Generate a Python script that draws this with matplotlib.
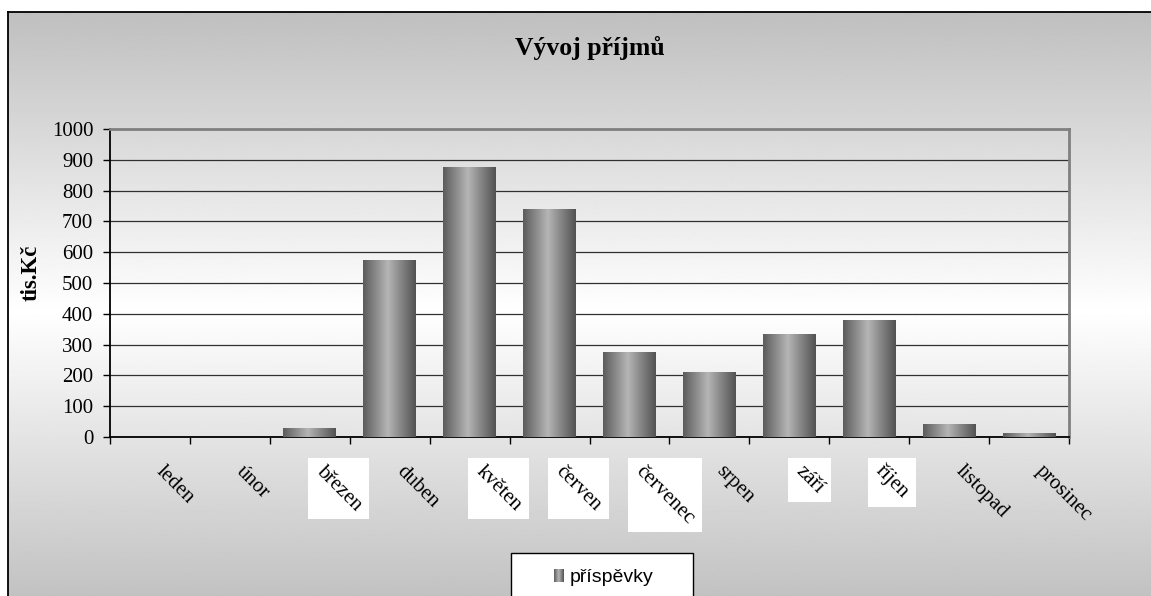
import numpy as np
import matplotlib
matplotlib.use("Agg")
import matplotlib.pyplot as plt
import matplotlib.transforms as mtransforms
from matplotlib.patches import Rectangle

# data (tis. Kč)
mesice = ['leden', 'únor', 'březen', 'duben', 'květen', 'červen',
          'červenec', 'srpen', 'září', 'říjen', 'listopad', 'prosinec']
prispevky = [0, 0, 28, 575, 877, 740, 276, 211, 334, 380, 42, 13]
y_ticks = [0, 100, 200, 300, 400, 500, 600, 700, 800, 900, 1000]
# labels shown on a white box in the original
boxed = ['březen', 'květen', 'červen', 'červenec', 'září', 'říjen']
serie = 'příspěvky'

plt.rcParams['font.family'] = ['Liberation Serif', 'DejaVu Serif']

W, H = 1151, 596
fig = plt.figure(figsize=(W / 100, H / 100), dpi=100)
fig.patch.set_facecolor('white')

# === background frame with vertical gradient ===
bg = fig.add_axes([8 / W, -14 / H, 1.05, (596 - 12 + 14) / H], zorder=-2)
t = np.linspace(0, 1, 300)
shade = 0.75 + 0.25 * (1 - np.abs(2 * t - 1))
bg.imshow(shade[:, None], cmap='gray', vmin=0, vmax=1, aspect='auto',
          extent=(0, 1, 0, 1), interpolation='bilinear')
bg.set_xlim(0, 1)
bg.set_ylim(0, 1)
bg.set_xticks([])
bg.set_yticks([])
for s in bg.spines.values():
    s.set_color('black')
    s.set_linewidth(1.3)

# === main plot ===
ax = fig.add_axes([110 / W, 1 - 437 / H, (1069 - 110) / W, (437 - 129) / H], zorder=0)
ax.patch.set_alpha(0)
x = np.arange(len(mesice))
bars = ax.bar(x, prispevky, width=0.66, color='#888888', zorder=3)

# horizontal cylinder-like gradient on every bar
g = np.interp(np.linspace(0, 1, 200), [0, 0.47, 1], [0.36, 0.71, 0.32])
for b in bars:
    if b.get_height() <= 0:
        continue
    b.set_facecolor('none')
    im = ax.imshow(g[None, :], cmap='gray', vmin=0, vmax=1, aspect='auto',
                   extent=(b.get_x(), b.get_x() + b.get_width(), 0, b.get_height()),
                   interpolation='bilinear', zorder=3)
    im.set_clip_path(b)

ax.set_xlim(-0.5, len(mesice) - 0.5)
ax.set_ylim(0, 1000)
ax.set_yticks(y_ticks)
ax.set_yticklabels([str(v) for v in y_ticks], fontsize=15)
ax.yaxis.grid(True, color='#303030', linewidth=0.9, zorder=1)
ax.set_axisbelow(True)

ax.set_xticks(np.arange(len(mesice) + 1) - 0.5)
ax.set_xticklabels([])
ax.set_xticks(x, minor=True)
ax.set_xticklabels(mesice, minor=True, fontsize=15, rotation=-45,
                   ha='left', va='top', rotation_mode='anchor')
ax.tick_params(axis='x', which='minor', length=0, pad=18)
ax.tick_params(axis='x', which='major', length=5, direction='out', width=1)
ax.tick_params(axis='y', length=5, direction='out', width=1, pad=7)
shift = mtransforms.ScaledTranslation(0.16, 0, fig.dpi_scale_trans)
for lab in ax.get_xticklabels(minor=True):
    lab.set_transform(lab.get_transform() + shift)

ax.spines['left'].set_linewidth(1.3)
ax.spines['bottom'].set_linewidth(1.3)
ax.spines['top'].set_color('#808080')
ax.spines['top'].set_linewidth(2)
ax.spines['right'].set_color('#808080')
ax.spines['right'].set_linewidth(2)

ax.set_ylabel('tis.Kč', fontsize=16.5, fontweight='bold', labelpad=7, y=0.532)

fig.text(ax.get_position().x0 + ax.get_position().width / 2, 1 - 48 / H,
         'Vývoj příjmů', fontsize=18.5, fontweight='bold', ha='center', va='center')

# legend box at the bottom (runs off the picture like in the original)
fig.patches.append(Rectangle((511 / W, -0.1), 182 / W, 0.1 + (596 - 553) / H,
                             transform=fig.transFigure, facecolor='white',
                             edgecolor='black', linewidth=1, zorder=1, figure=fig))
mk = fig.add_axes([554 / W, 1 - 582 / H, 10 / W, 13 / H], zorder=2)
mk.imshow(g[None, :], cmap='gray', vmin=0, vmax=1, aspect='auto', interpolation='bilinear')
mk.axis('off')
fig.text(570 / W, 1 - 577 / H, serie, fontsize=14, family='Liberation Sans',
         ha='left', va='center', zorder=2)

# white boxes behind some of the month labels
fig.canvas.draw()
r = fig.canvas.get_renderer()
for lab in ax.get_xticklabels(minor=True):
    if lab.get_text() in boxed:
        bb = lab.get_window_extent(r)
        fig.patches.append(Rectangle((bb.x0 - 4, bb.y0 - 4), bb.width + 8, bb.height + 8,
                                     transform=None, facecolor='white',
                                     edgecolor='none', zorder=-1, figure=fig))

fig.savefig('out.png', dpi=100)
